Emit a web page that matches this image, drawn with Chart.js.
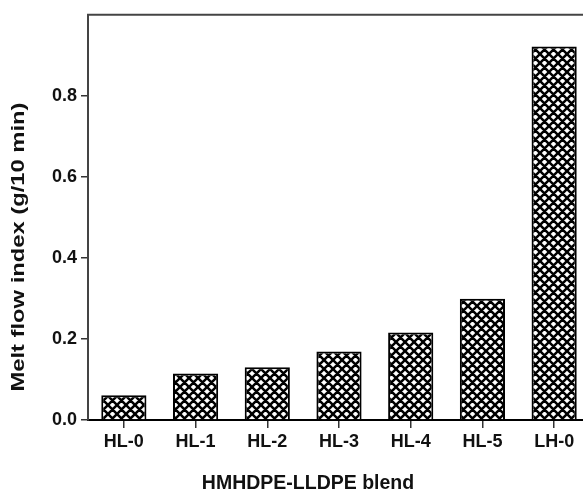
<!DOCTYPE html>
<html>
<head>
<meta charset="utf-8">
<script src="https://cdn.jsdelivr.net/npm/chart.js@4/dist/chart.umd.min.js"></script>
<style>
  html, body { margin: 0; padding: 0; background: #fff; overflow: hidden; }
  #wrap { width: 600px; height: 495px; }
</style>
</head>
<body>
<div id="wrap"><canvas id="mfi"></canvas></div>
<script>
const blends = ["HL-0", "HL-1", "HL-2", "HL-3", "HL-4", "HL-5", "LH-0"];
const meltFlow = [0.061, 0.115, 0.130, 0.169, 0.216, 0.299, 0.922];
const yTicks = [0.0, 0.2, 0.4, 0.6, 0.8];
const yTitle = "Melt flow index (g/10 min)";
const xTitle = "HMHDPE-LLDPE blend";

const FAMILY = "'Liberation Sans', Arial, sans-serif";

// crosshatch fill for the bars
function crossHatch() {
  const s = 9;
  const c = document.createElement("canvas");
  c.width = s; c.height = s;
  const g = c.getContext("2d");
  g.fillStyle = "#fff";
  g.fillRect(0, 0, s, s);
  g.strokeStyle = "#000";
  g.lineWidth = 2.5;
  g.beginPath();
  for (const dx of [-s, 0, s]) {
    g.moveTo(dx - 1, -1); g.lineTo(dx + s + 1, s + 1);
    g.moveTo(dx - 1, s + 1); g.lineTo(dx + s + 1, -1);
  }
  g.stroke();
  return g.createPattern(c, "repeat");
}

// top frame line and both axis titles
const frame = {
  id: "frame",
  afterDraw(chart) {
    const { ctx, chartArea } = chart;
    ctx.save();
    ctx.strokeStyle = "#444";
    ctx.lineWidth = 2;
    ctx.beginPath();
    ctx.moveTo(chartArea.left - 1, chartArea.top);
    ctx.lineTo(chartArea.right, chartArea.top);
    ctx.stroke();

    ctx.fillStyle = "#111";
    ctx.textAlign = "center";
    ctx.textBaseline = "middle";
    ctx.font = "bold 19.5px " + FAMILY;
    ctx.fillText(xTitle, 308, 484);

    ctx.translate(19, 247);
    ctx.rotate(-Math.PI / 2);
    ctx.scale(1.25, 1);
    ctx.font = "bold 19px " + FAMILY;
    ctx.fillText(yTitle, 0, 0);
    ctx.restore();
  }
};

new Chart(document.getElementById("mfi"), {
  type: "bar",
  data: {
    labels: blends,
    datasets: [{
      data: meltFlow,
      backgroundColor: crossHatch(),
      borderColor: "#000",
      borderWidth: 2,
      barPercentage: 0.63,
      categoryPercentage: 1
    }]
  },
  options: {
    responsive: true,
    maintainAspectRatio: false,
    animation: false,
    layout: { padding: { top: 13, right: 10, left: 0, bottom: 0 } },
    plugins: { legend: { display: false }, tooltip: { enabled: false } },
    scales: {
      x: {
        afterFit(axis) { axis.height = 75; },
        grid: { display: true, offset: false, drawOnChartArea: false, tickLength: 8, color: "#333", lineWidth: 1.5 },
        border: { color: "#000", width: 2 },
        ticks: { color: "#111", font: { family: FAMILY, weight: "bold", size: 18 }, padding: 3, maxRotation: 0 }
      },
      y: {
        min: 0,
        max: 1.0,
        afterFit(axis) { axis.width = 88; },
        afterBuildTicks(axis) { axis.ticks = yTicks.map(v => ({ value: v })); },
        grid: { display: true, drawOnChartArea: false, tickLength: 7, color: "#333", lineWidth: 1.5 },
        border: { color: "#444", width: 2 },
        ticks: { color: "#111", font: { family: FAMILY, weight: "bold", size: 18 }, padding: 4, callback: v => v.toFixed(1) }
      }
    }
  },
  plugins: [frame]
});
</script>
</body>
</html>
